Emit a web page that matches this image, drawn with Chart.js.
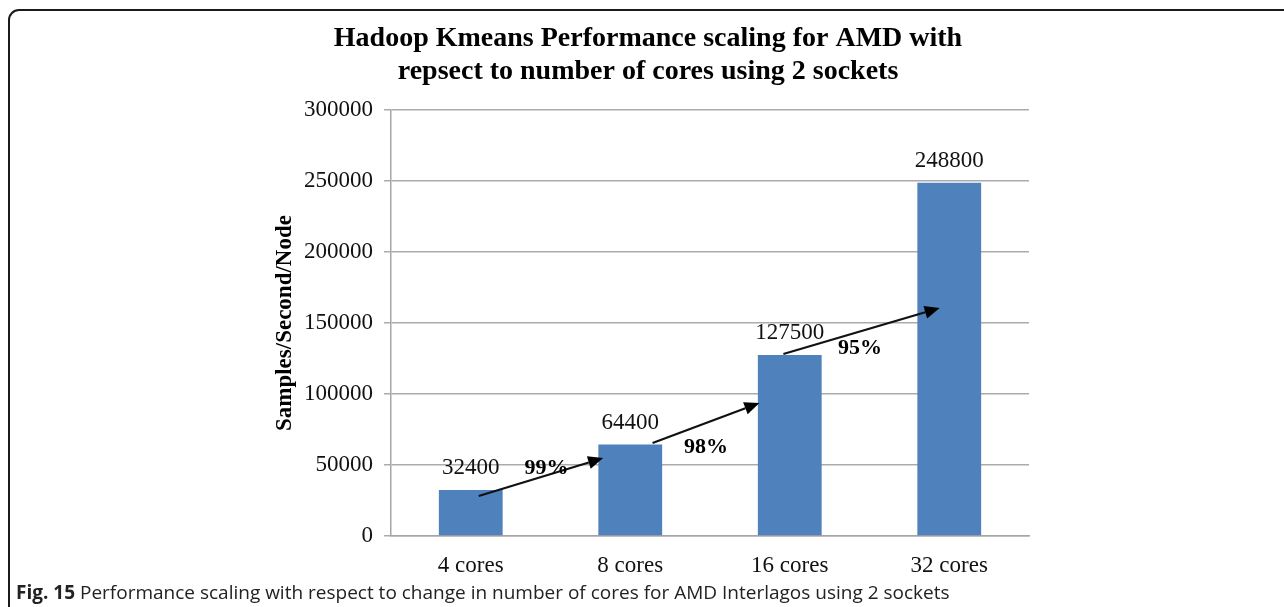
<!DOCTYPE html>
<html lang="en">
<head>
    <meta charset="UTF-8">
    <title>Hadoop Kmeans Performance scaling for AMD</title>
    <script src="https://cdn.jsdelivr.net/npm/chart.js"></script>
    <style>
        body {
            margin: 0;
            width: 1284px;
            height: 607px;
            overflow: hidden;
            background: #fff;
            position: relative;
        }
        .frame {
            position: absolute;
            left: 8px;
            top: 9px;
            width: 1300px;
            height: 640px;
            border: 2px solid #1a1a1a;
            border-radius: 11px;
            box-sizing: border-box;
        }
        .chart-box {
            position: absolute;
            left: 12px;
            top: 0;
            width: 1268px;
            height: 580px;
        }
        .caption {
            position: absolute;
            left: 16px;
            top: 579px;
            font-family: "Open Sans", sans-serif;
            font-size: 19px;
            color: #222;
            white-space: nowrap;
        }
    </style>
</head>
<body>
    <div class="frame"></div>
    <div class="chart-box"><canvas id="kmeansChart"></canvas></div>
    <div class="caption"><b>Fig. 15</b> Performance scaling with respect to change in number of cores for AMD Interlagos using 2 sockets</div>

    <script>
        const categories = ['4 cores', '8 cores', '16 cores', '32 cores'];
        const samples = [32400, 64400, 127500, 248800];
        const yTicks = [0, 50000, 100000, 150000, 200000, 250000, 300000];

        // scaling efficiency arrows between bars, in data units (category index, value)
        const scalingLabels = ['99%', '98%', '95%'];
        const scalingLabelAt = [[0.475, 47900], [1.475, 62700], [2.44, 132400]];
        const arrowFrom = [[0.05, 28200], [1.14, 65500], [1.96, 128200]];
        const arrowTo = [[0.83, 54900], [1.81, 93700], [2.94, 160600]];

        const serif = "'Liberation Serif', 'Times New Roman', serif";

        // value labels above bars + arrows with percentages
        const annotations = {
            id: 'annotations',
            afterDatasetsDraw(chart) {
                const ctx = chart.ctx;
                const xs = chart.scales.x;
                const ys = chart.scales.y;
                ctx.save();
                ctx.fillStyle = '#111';
                ctx.font = '23px ' + serif;
                ctx.textAlign = 'center';
                ctx.textBaseline = 'middle';
                chart.getDatasetMeta(0).data.forEach((bar, i) => {
                    ctx.fillText(String(samples[i]), bar.x, bar.y - 22);
                });

                arrowFrom.forEach((from, i) => {
                    const x1 = xs.getPixelForValue(from[0]);
                    const y1 = ys.getPixelForValue(from[1]);
                    const x2 = xs.getPixelForValue(arrowTo[i][0]);
                    const y2 = ys.getPixelForValue(arrowTo[i][1]);
                    const ang = Math.atan2(y2 - y1, x2 - x1);
                    const head = 15;
                    const bx = x2 - head * Math.cos(ang);
                    const by = y2 - head * Math.sin(ang);
                    ctx.strokeStyle = '#111';
                    ctx.lineWidth = 2.2;
                    ctx.beginPath();
                    ctx.moveTo(x1, y1);
                    ctx.lineTo(bx, by);
                    ctx.stroke();
                    ctx.fillStyle = '#000';
                    ctx.beginPath();
                    ctx.moveTo(x2, y2);
                    ctx.lineTo(bx + 6.5 * Math.sin(ang), by - 6.5 * Math.cos(ang));
                    ctx.lineTo(bx - 6.5 * Math.sin(ang), by + 6.5 * Math.cos(ang));
                    ctx.closePath();
                    ctx.fill();
                });

                ctx.fillStyle = '#000';
                ctx.font = 'bold 22px ' + serif;
                scalingLabels.forEach((txt, i) => {
                    const p = scalingLabelAt[i];
                    ctx.fillText(txt, xs.getPixelForValue(p[0]), ys.getPixelForValue(p[1]));
                });
                ctx.restore();
            }
        };

        const ctx = document.getElementById('kmeansChart').getContext('2d');
        new Chart(ctx, {
            type: 'bar',
            data: {
                labels: categories,
                datasets: [{
                    label: 'Samples/Second/Node',
                    data: samples,
                    backgroundColor: '#4f81bd',
                    borderWidth: 0,
                    barPercentage: 0.4,
                    categoryPercentage: 1.0
                }]
            },
            options: {
                responsive: true,
                maintainAspectRatio: false,
                animation: false,
                layout: {
                    padding: { left: 255, right: 251, top: 0, bottom: 0 }
                },
                plugins: {
                    legend: { display: false },
                    tooltip: { enabled: false },
                    title: {
                        display: true,
                        text: ['Hadoop Kmeans Performance scaling for AMD with',
                               'repsect to number of cores using 2 sockets'],
                        color: '#000',
                        font: { family: serif, size: 28, weight: 'bold', lineHeight: 1.18 },
                        padding: { top: 22, bottom: 22 }
                    }
                },
                scales: {
                    x: {
                        grid: { display: false, drawTicks: false },
                        border: { color: '#a6a6a6', width: 1.5 },
                        ticks: {
                            color: '#111',
                            font: { family: serif, size: 23 },
                            padding: 16
                        },
                        afterFit(scale) { scale.height = 44; }
                    },
                    y: {
                        min: 0,
                        max: 300000,
                        afterBuildTicks(scale) {
                            scale.ticks = yTicks.map(v => ({ value: v }));
                        },
                        grid: { color: '#ababab', lineWidth: 1.5, tickLength: 7 },
                        border: { color: '#a6a6a6', width: 1.5 },
                        ticks: {
                            color: '#111',
                            font: { family: serif, size: 23 },
                            padding: 11,
                            callback: v => String(v)
                        },
                        title: {
                            display: true,
                            text: 'Samples/Second/Node',
                            color: '#000',
                            font: { family: serif, size: 23, weight: 'bold' },
                            padding: { top: 4, bottom: 0 }
                        },
                        afterFit(scale) { scale.width = 124; }
                    }
                }
            },
            plugins: [annotations]
        });
    </script>
</body>
</html>
